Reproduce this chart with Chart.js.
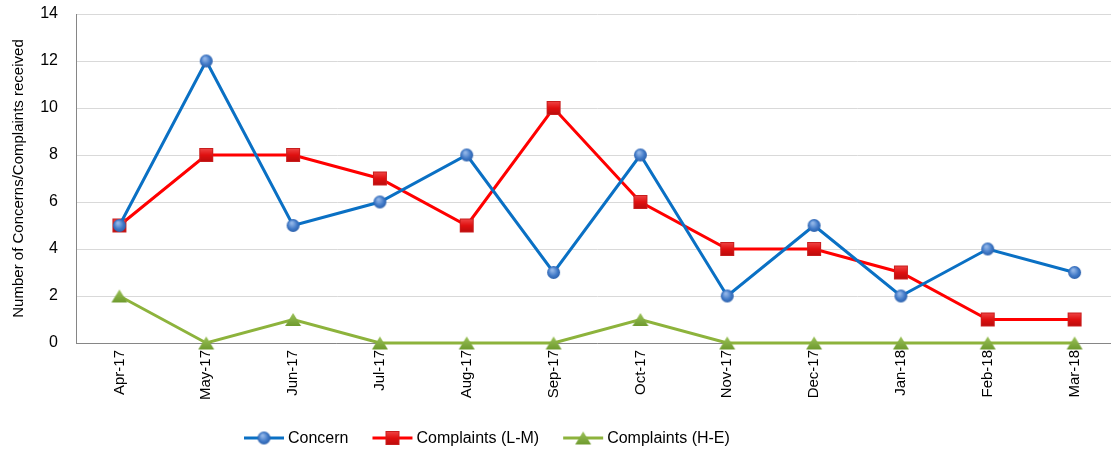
<!DOCTYPE html>
<html>
<head>
<meta charset="utf-8">
<script src="https://cdn.jsdelivr.net/npm/chart.js@4.4.1/dist/chart.umd.min.js"></script>
<style>
  html, body { margin: 0; padding: 0; background: #fff; overflow: hidden; }
  canvas { display: block; }
</style>
</head>
<body>
<canvas id="c" width="1128" height="451"></canvas>
<script>
const months = ['Apr-17','May-17','Jun-17','Jul-17','Aug-17','Sep-17','Oct-17','Nov-17','Dec-17','Jan-18','Feb-18','Mar-18'];
const concern = [5,12,5,6,8,3,8,2,5,2,4,3];
const complaintsLM = [5,8,8,7,5,10,6,4,4,3,1,1];
const complaintsHE = [2,0,1,0,0,0,1,0,0,0,0,0];
const yTicks = [0,2,4,6,8,10,12,14];

const FONT = '"Liberation Sans", Arial, sans-serif';

// Shaded marker sprites
function sprite(w, h, draw) {
  const c = document.createElement('canvas');
  c.width = w; c.height = h;
  draw(c.getContext('2d'), w, h);
  return c;
}
const circleMark = sprite(15, 15, (g) => {
  const gr = g.createRadialGradient(6, 5, 1, 7.5, 7.5, 7);
  gr.addColorStop(0, '#8fb3e6');
  gr.addColorStop(0.6, '#3f78c6');
  gr.addColorStop(1, '#2b5ea8');
  g.fillStyle = gr;
  g.beginPath(); g.arc(7.5, 7.5, 6.5, 0, Math.PI * 2); g.fill();
});
const squareMark = sprite(16, 16, (g) => {
  const gr = g.createLinearGradient(0, 1, 0, 15);
  gr.addColorStop(0, '#f04848');
  gr.addColorStop(0.5, '#e01010');
  gr.addColorStop(1, '#b80c0c');
  g.fillStyle = gr;
  g.fillRect(1, 1, 14, 14);
  g.strokeStyle = '#c81e1e';
  g.lineWidth = 1;
  g.strokeRect(1.5, 1.5, 13, 13);
});
const triMark = sprite(18, 15, (g) => {
  const gr = g.createLinearGradient(0, 1, 0, 14);
  gr.addColorStop(0, '#9cc25a');
  gr.addColorStop(1, '#6e9a2e');
  g.fillStyle = gr;
  g.beginPath(); g.moveTo(9, 1); g.lineTo(17, 14); g.lineTo(1, 14); g.closePath(); g.fill();
});

// Bottom legend: line segment with marker, then the series name
const lineLegend = {
  id: 'lineLegend',
  afterDraw(chart, args, opts) {
    const ctx = chart.ctx;
    ctx.save();
    ctx.font = '16px ' + FONT;
    ctx.fillStyle = '#000';
    ctx.textBaseline = 'middle';
    let x = opts.x;
    const y = opts.y;
    chart.data.datasets.forEach((ds) => {
      ctx.strokeStyle = ds.borderColor;
      ctx.lineWidth = 3;
      ctx.beginPath(); ctx.moveTo(x, y); ctx.lineTo(x + 40, y); ctx.stroke();
      const m = ds.pointStyle;
      ctx.drawImage(m, x + 20 - m.width / 2, y - m.height / 2);
      ctx.fillText(ds.label, x + 44, y + 1);
      x += 44 + ctx.measureText(ds.label).width + 24;
    });
    ctx.restore();
  }
};

Chart.defaults.font.family = FONT;
Chart.defaults.color = '#000';

new Chart(document.getElementById('c'), {
  type: 'line',
  plugins: [lineLegend],
  data: {
    labels: months,
    datasets: [
      { label: 'Concern', data: concern, borderColor: '#0a70c4', borderWidth: 3,
        pointStyle: circleMark, pointRadius: 7, pointHoverRadius: 7, tension: 0, clip: false },
      { label: 'Complaints (L-M)', data: complaintsLM, borderColor: '#ff0000', borderWidth: 3,
        pointStyle: squareMark, pointRadius: 7, pointHoverRadius: 7, tension: 0, clip: false },
      { label: 'Complaints (H-E)', data: complaintsHE, borderColor: '#8db33c', borderWidth: 3,
        pointStyle: triMark, pointRadius: 7, pointHoverRadius: 7, tension: 0, clip: false }
    ]
  },
  options: {
    responsive: false,
    animation: false,
    layout: { padding: { top: 14, left: 10, right: 0, bottom: 35 } },
    plugins: {
      tooltip: { enabled: false },
      legend: { display: false },
      lineLegend: { x: 244, y: 438 }
    },
    scales: {
      x: {
        offset: true,
        grid: { display: false, drawTicks: false },
        border: { color: '#868686', width: 1 },
        ticks: { maxRotation: 90, minRotation: 90, padding: 7, font: { size: 15 }, color: '#000' },
        afterFit(s) { s.height = 73; s.paddingLeft = 0; s.paddingRight = 0; }
      },
      y: {
        min: 0, max: 14,
        afterBuildTicks(s) { s.ticks = yTicks.map(v => ({ value: v })); },
        grid: { color: '#d9d9d9', drawTicks: false },
        border: { color: '#868686', width: 1 },
        ticks: { padding: 18, font: { size: 16 }, color: '#000' },
        title: { display: true, text: 'Number of Concerns/Complaints received', font: { size: 15 }, color: '#000', padding: { top: 0, bottom: 0 } },
        afterFit(s) { s.width = 66; s.paddingTop = 0; s.paddingBottom = 0; }
      }
    }
  }
});
</script>
</body>
</html>
